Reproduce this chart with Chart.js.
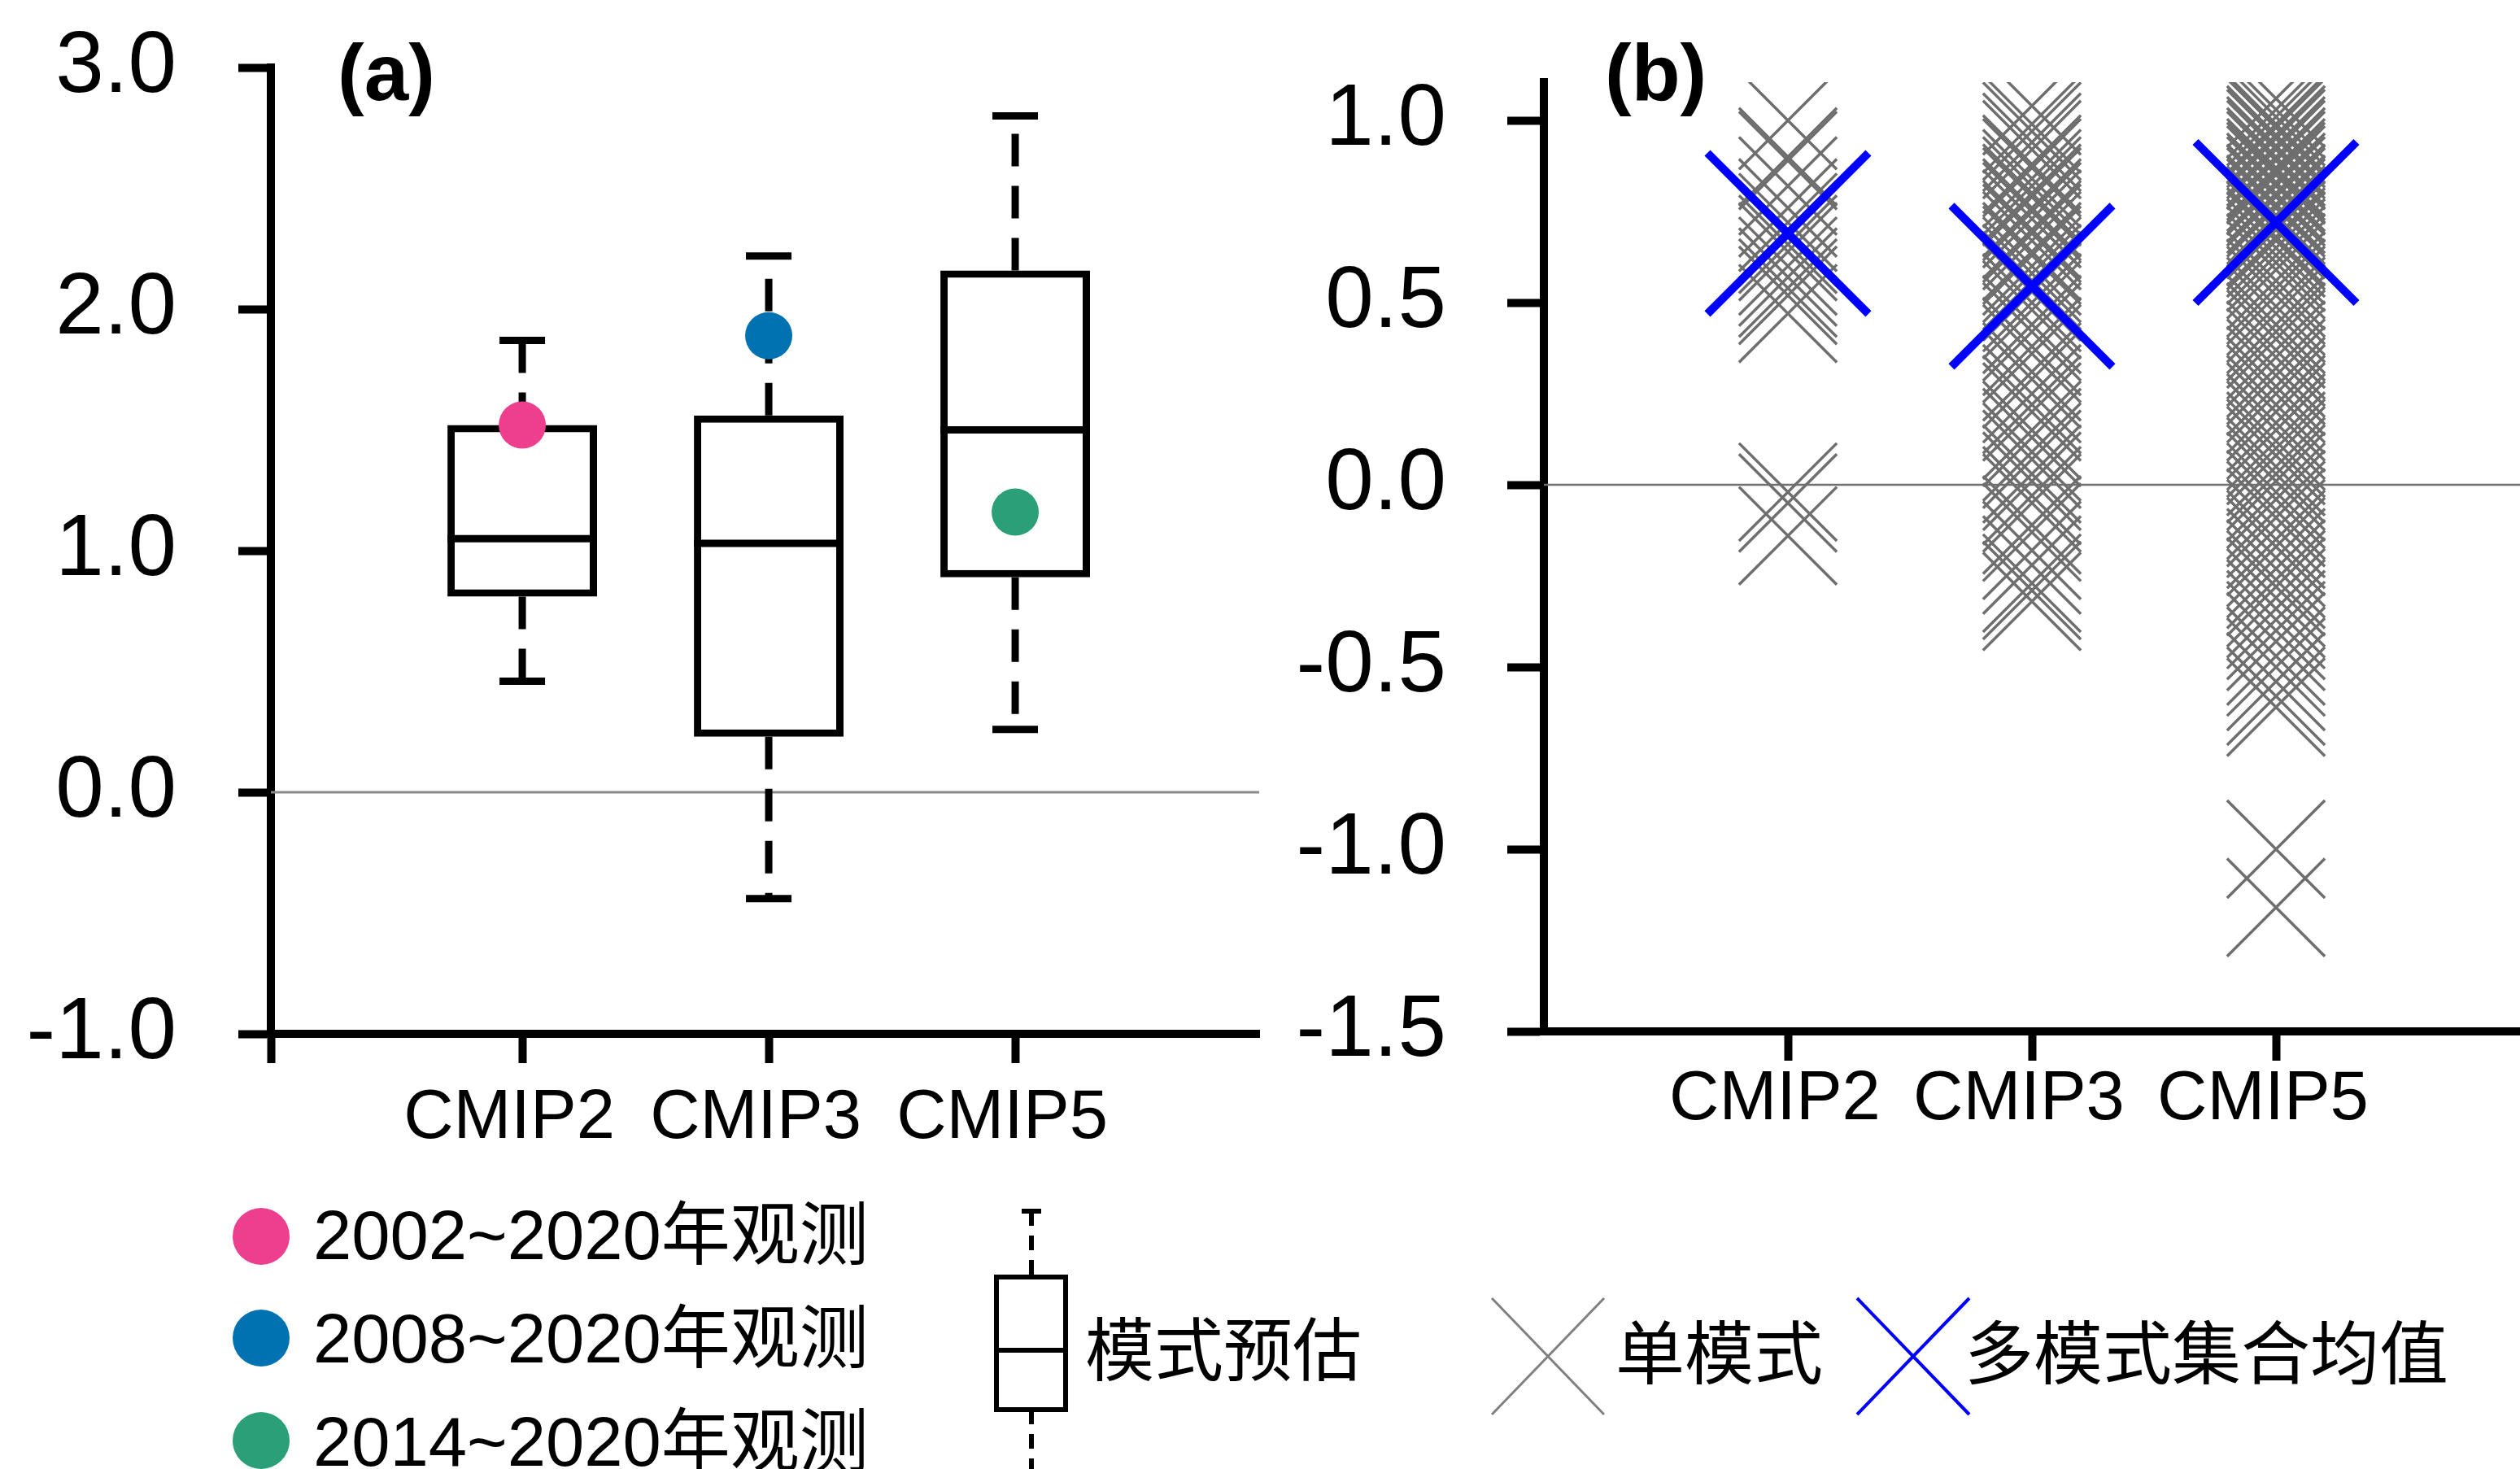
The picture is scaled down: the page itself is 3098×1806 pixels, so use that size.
<!DOCTYPE html>
<html>
<head>
<meta charset="utf-8">
<script src="https://cdn.jsdelivr.net/npm/chart.js@4.4.1/dist/chart.umd.min.js"></script>
<style>
  html, body { margin: 0; padding: 0; background: #fff; }
  body { width: 3098px; height: 1806px; position: relative; overflow: hidden;
         font-family: "Liberation Sans", Arial, "Noto Sans CJK SC", sans-serif; color: #000; }
  canvas { position: absolute; top: 0; }
  #chartA { left: 0; }
  #chartB { left: 1560px; }
  .tag { position: absolute; font-weight: bold; font-size: 98px; line-height: 98px; }
  .lg { position: absolute; font-size: 85px; line-height: 100px; height: 100px; white-space: nowrap; }
  .dot { position: absolute; width: 70px; height: 70px; border-radius: 50%; }
  #glyphs { position: absolute; left: 0; top: 0; }
</style>
</head>
<body>
<canvas id="chartA" width="1600" height="1420"></canvas>
<canvas id="chartB" width="1538" height="1420"></canvas>
<div class="tag" style="left:415px; top:40px;">(a)</div>
<div class="tag" style="left:1973px; top:40px;">(b)</div>

<!-- legend -->
<div class="dot" style="left:286px; top:1485px; background:#ee3f8e;"></div>
<div class="dot" style="left:286px; top:1610px; background:#0072b2;"></div>
<div class="dot" style="left:286px; top:1736px; background:#2a9f78;"></div>
<div class="lg" id="lg0" style="left:385px; top:1469px;"></div>
<div class="lg" id="lg1" style="left:385px; top:1596px;"></div>
<div class="lg" id="lg2" style="left:385px; top:1723px;"></div>
<div class="lg" style="left:1334px; top:1612px;">模式预估</div>
<div class="lg" style="left:1986px; top:1616px;">单模式</div>
<div class="lg" style="left:2415px; top:1616px;">多模式集合均值</div>
<svg id="glyphs" width="3098" height="1806">
  <line x1="1256" y1="1489" x2="1280" y2="1489" stroke="#000" stroke-width="6"/>
  <line x1="1268" y1="1489" x2="1268" y2="1570" stroke="#000" stroke-width="6" stroke-dasharray="18 12"/>
  <rect x="1225" y="1570" width="85" height="163" fill="#fff" stroke="#000" stroke-width="6"/>
  <line x1="1225" y1="1660" x2="1310" y2="1660" stroke="#000" stroke-width="6"/>
  <line x1="1268" y1="1733" x2="1268" y2="1806" stroke="#000" stroke-width="6" stroke-dasharray="18 12"/>
  <line x1="1834" y1="1596" x2="1972" y2="1739" stroke="#808080" stroke-width="3"/>
  <line x1="1972" y1="1596" x2="1834" y2="1739" stroke="#808080" stroke-width="3"/>
  <line x1="2283" y1="1596" x2="2421" y2="1739" stroke="#0000ff" stroke-width="4"/>
  <line x1="2421" y1="1596" x2="2283" y2="1739" stroke="#0000ff" stroke-width="4"/>
</svg>

<script>
// ---- data ----
const categories = ['CMIP2', 'CMIP3', 'CMIP5'];
const catPos = [1, 2, 3];

// panel (a): box statistics of model projections
const boxMin = [0.46, -0.44, 0.26];
const boxQ1 = [0.81, 0.23, 0.89];
const boxMedian = [1.05, 1.03, 1.50];
const boxQ3 = [1.52, 1.56, 2.16];
const boxMax = [1.87, 2.22, 2.80];

// panel (a): observations
const obsLabels = ['2002~2020年观测', '2008~2020年观测', '2014~2020年观测'];
const obsCategory = [1, 2, 3];
const obsValues = [1.52, 1.89, 1.16];

// panel (b): single models
const singleCMIP2 = [1.0, 0.9, 0.89, 0.82, 0.76, 0.72, 0.7, 0.68, 0.66, 0.64, 0.6, 0.57, 0.54, 0.52, 0.47,
    -0.02, -0.05, -0.14];
const singleCMIP3 = [1.04, 0.99, 0.97, 0.94, 0.92, 0.88, 0.87, 0.84, 0.82, 0.8, 0.79, 0.76, 0.75, 0.73, 0.7,
    0.69, 0.67, 0.64, 0.63, 0.6, 0.58, 0.56, 0.53, 0.5, 0.48, 0.44, 0.42, 0.38, 0.36, 0.31, 0.29, 0.25,
    0.22, 0.2, 0.15, 0.13, 0.09, 0.07, 0.03, 0.01, -0.03, -0.05, -0.11, -0.13, -0.18, -0.22, -0.27,
    -0.29, -0.32];
const singleCMIP5 = [1.06, 1.03, 1.01, 0.99, 0.98, 0.96, 0.95, 0.93, 0.92, 0.9, 0.89, 0.87, 0.86, 0.85,
    0.83, 0.82, 0.8, 0.79, 0.77, 0.76, 0.74, 0.73, 0.71, 0.7, 0.68, 0.67, 0.65, 0.63, 0.61, 0.59, 0.56,
    0.54, 0.52, 0.49, 0.47, 0.44, 0.42, 0.4, 0.37, 0.35, 0.32, 0.3, 0.27, 0.25, 0.22, 0.2, 0.17, 0.15,
    0.12, 0.1, 0.08, 0.05, 0.03, 0.01, -0.02, -0.04, -0.07, -0.09, -0.12, -0.15, -0.17, -0.2, -0.23,
    -0.26, -0.28, -0.31, -0.34, -0.37, -0.4, -0.43, -0.47, -0.5, -0.54, -0.58, -0.61, -1.0, -1.16];
// panel (b): multi-model ensemble mean
const ensembleMean = [0.69, 0.545, 0.72];

// tick values
const yTicksA = [-1, 0, 1, 2, 3];
const yTicksB = [-1.5, -1.0, -0.5, 0, 0.5, 1.0];

const obsColors = ['#ee3f8e', '#0072b2', '#2a9f78'];

Chart.defaults.font.family = '"Liberation Sans", Arial, sans-serif';
Chart.defaults.color = '#000';

obsLabels.forEach((t, i) => { document.getElementById('lg' + i).textContent = t; });

// Axis helpers (label overflow padding is zeroed so the plot area stays where the layout puts it)
function axisX(minV, maxV, tickVals, pad) {
    return {
        type: 'linear', min: minV, max: maxV, offset: false,
        afterBuildTicks: s => { s.ticks = tickVals.map(v => ({ value: v })); },
        afterFit: s => { s.height = 140; s.paddingLeft = 0; s.paddingRight = 0; },
        ticks: {
            autoSkip: false, maxRotation: 0, padding: pad, labelOffset: -16,
            font: { size: 85, lineHeight: 1 },
            callback: v => { const i = catPos.indexOf(v); return i < 0 ? '' : categories[i]; }
        },
        grid: { drawOnChartArea: false, offset: false, tickLength: 36, tickWidth: 10, tickColor: '#000' },
        border: { display: true, color: '#000', width: 10 }
    };
}

function axisY(minV, maxV, tickVals, width, tickLen, pad) {
    return {
        type: 'linear', min: minV, max: maxV,
        afterBuildTicks: s => { s.ticks = tickVals.map(v => ({ value: v })); },
        afterFit: s => { s.width = width; s.paddingTop = 0; s.paddingBottom = 0; },
        ticks: { padding: pad, font: { size: 107 }, callback: v => v.toFixed(1) },
        grid: { drawOnChartArea: false, tickLength: tickLen, tickWidth: 10, tickColor: '#000' },
        border: { display: true, color: '#000', width: 10 }
    };
}

// Median line and dashed whiskers, drawn right after the boxes
const boxWhiskers = {
    id: 'boxWhiskers',
    afterDatasetDraw(chart, args) {
        if (args.meta.type !== 'bar') return;
        const ctx = chart.ctx;
        const xs = chart.scales.x;
        const ys = chart.scales.y;
        ctx.save();
        ctx.strokeStyle = '#000';
        ctx.lineWidth = 9;
        catPos.forEach((c, i) => {
            const x = xs.getPixelForValue(c);
            const half = args.meta.data[i].width / 2;
            const capHalf = 28;
            // median
            ctx.setLineDash([]);
            ctx.beginPath();
            ctx.moveTo(x - half, ys.getPixelForValue(boxMedian[i]));
            ctx.lineTo(x + half, ys.getPixelForValue(boxMedian[i]));
            ctx.stroke();
            // caps
            [boxMax[i], boxMin[i]].forEach(v => {
                const y = ys.getPixelForValue(v);
                ctx.beginPath();
                ctx.moveTo(x - capHalf, y);
                ctx.lineTo(x + capHalf, y);
                ctx.stroke();
            });
            // whiskers
            ctx.setLineDash([40, 24]);
            [[boxQ3[i], boxMax[i]], [boxQ1[i], boxMin[i]]].forEach(pair => {
                ctx.beginPath();
                ctx.moveTo(x, ys.getPixelForValue(pair[0]));
                ctx.lineTo(x, ys.getPixelForValue(pair[1]));
                ctx.stroke();
            });
        });
        ctx.restore();
    }
};

// Panel (a)
const xMinA = -0.02, xMaxA = 3.99;
new Chart(document.getElementById('chartA'), {
    type: 'scatter',
    data: {
        datasets: [
            {
                type: 'line', data: [{ x: xMinA, y: 0 }, { x: xMaxA, y: 0 }],
                borderColor: '#8a8a8a', borderWidth: 3, pointRadius: 0, order: 3
            },
            {
                type: 'bar',
                data: catPos.map((c, i) => ({ x: c, y: [boxQ1[i], boxQ3[i]] })),
                backgroundColor: '#fff', borderColor: '#000', borderWidth: 9, borderSkipped: false,
                barPercentage: 0.607, categoryPercentage: 1, order: 2
            },
            ...obsLabels.map((lab, i) => ({
                type: 'scatter', label: lab,
                data: [{ x: obsCategory[i], y: obsValues[i] }],
                pointRadius: 29, pointBackgroundColor: obsColors[i], pointBorderWidth: 0, order: 1
            }))
        ]
    },
    options: {
        responsive: false, animation: false, events: [],
        layout: { autoPadding: false, padding: { left: 0, top: 83, right: 52, bottom: 9 } },
        plugins: { legend: { display: false }, tooltip: { enabled: false } },
        scales: {
            x: axisX(xMinA, xMaxA, [xMinA].concat(catPos), 26),
            y: axisY(-1, 3, yTicksA, 333, 40, 76)
        }
    },
    plugins: [boxWhiskers]
});

// Panel (b)
const singlePoints = [].concat(
    singleCMIP2.map(v => ({ x: catPos[0], y: v })),
    singleCMIP3.map(v => ({ x: catPos[1], y: v })),
    singleCMIP5.map(v => ({ x: catPos[2], y: v }))
);

new Chart(document.getElementById('chartB'), {
    type: 'scatter',
    data: {
        datasets: [
            {
                type: 'line', data: [{ x: 0, y: 0 }, { x: 4, y: 0 }],
                borderColor: '#707070', borderWidth: 2.5, pointRadius: 0, order: 3
            },
            {
                label: '单模式', data: singlePoints,
                pointStyle: 'crossRot', pointRadius: 85, pointBorderColor: '#6e6e6e',
                pointBorderWidth: 3.5, clip: 0, order: 2
            },
            {
                label: '多模式集合均值',
                data: catPos.map((c, i) => ({ x: c, y: ensembleMean[i] })),
                pointStyle: 'crossRot', pointRadius: 140, pointBorderColor: '#0000ff',
                pointBorderWidth: 10, clip: false, order: 1
            }
        ]
    },
    options: {
        responsive: false, animation: false, events: [],
        layout: { autoPadding: false, padding: { left: 0, top: 101, right: 0, bottom: 12 } },
        plugins: { legend: { display: false }, tooltip: { enabled: false } },
        scales: {
            x: axisX(0, 4, catPos, 6),
            y: axisY(-1.5, 1.105, yTicksB, 338, 45, 75)
        }
    }
});
</script>
</body>
</html>
